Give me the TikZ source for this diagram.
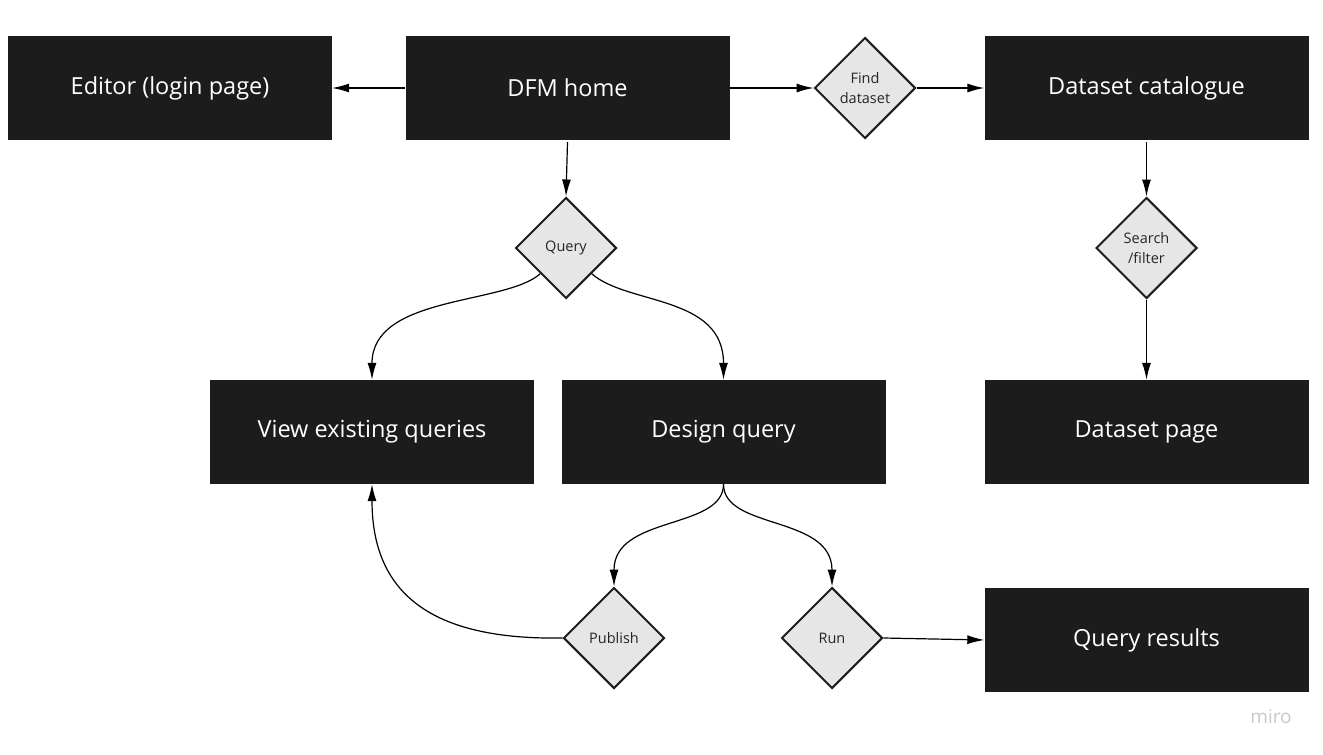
\documentclass[tikz,border=0pt]{standalone}
\usepackage{fontspec}
\setmainfont{Open Sans}
\usetikzlibrary{shapes.geometric,arrows.meta}
\definecolor{boxfill}{HTML}{1C1C1C}
\definecolor{dfill}{HTML}{E6E6E6}
\definecolor{dline}{HTML}{1E1E1E}
\definecolor{mirogray}{HTML}{C8C8CE}
\begin{document}
\begin{tikzpicture}[x=1pt,y=-1pt,
  pagebox/.style={fill=boxfill,text=white,minimum width=324pt,minimum height=104pt,inner sep=0pt,font=\fontsize{23.5}{28}\selectfont},
  choice/.style={diamond,draw=dline,line width=2pt,fill=dfill,minimum width=101pt,minimum height=101pt,aspect=1,inner sep=0pt,align=center,font=\fontsize{14.5}{20}\selectfont,text=black!85},
  flow/.style={line width=1.2pt,-{Latex[length=17pt,width=9pt]}}]
\useasboundingbox (0,0) rectangle (1323,755);
\node[pagebox] (editor) at (170,88) {Editor (login page)};
\node[pagebox] (home) at (567.5,88) {DFM home};
\node[choice] (find) at (865,88) {Find\\dataset};
\node[pagebox] (catalogue) at (1146.5,88) {Dataset catalogue};
\node[choice] (query) at (566,248) {Query};
\node[choice] (search) at (1146.5,248) {Search\\/filter};
\node[pagebox] (view) at (372,432) {View existing queries};
\node[pagebox] (design) at (723.5,432) {Design query};
\node[pagebox] (dspage) at (1146.5,432) {Dataset page};
\node[choice] (publish) at (614,638) {Publish};
\node[choice] (run) at (832,638) {Run};
\node[pagebox] (results) at (1146.5,640) {Query results};
\node[text=mirogray,font=\fontsize{19}{21}\selectfont] (miro) at (1271,717) {miro};

\draw[flow] (home.west) -- (editor.east);
\draw[flow] (home.east) -- (find.west);
\draw[flow] (find.east) -- (catalogue.west);
\draw[flow] (home.south) ++(0,2) -- (query.north);
\draw[flow] (catalogue.south) ++(0,2) -- (search.north);
\draw[flow] (search.south) -- (dspage.north);
\draw[flow] (query.south west) .. controls (505,305) and (372,295) .. (view.north);
\draw[flow] (query.south east) .. controls (627,305) and (723.5,295) .. (design.north);
\draw[flow] (design.south) .. controls (723.5,530) and (614,515) .. (publish.north);
\draw[flow] (design.south) .. controls (723.5,530) and (832,515) .. (run.north);
\draw[flow] (publish.west) .. controls (440,640) and (372,600) .. (view.south);
\draw[flow] (run.east) -- (results.west);
\end{tikzpicture}
\end{document}
